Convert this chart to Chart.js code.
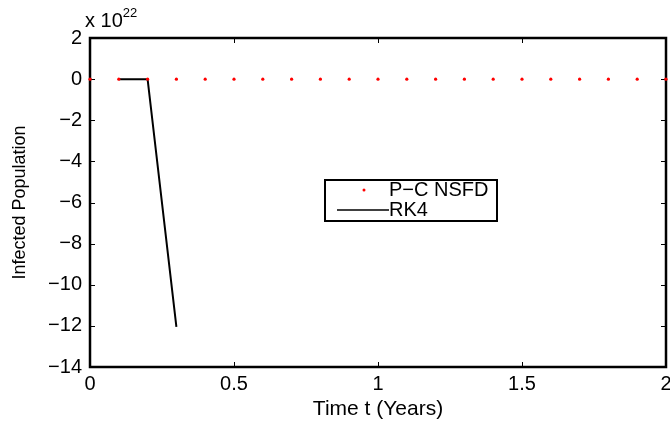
<!DOCTYPE html>
<html>
<head>
<meta charset="utf-8">
<script src="https://cdn.jsdelivr.net/npm/chart.js@4.4.1/dist/chart.umd.min.js"></script>
<style>
  html, body { margin: 0; padding: 0; background: #fff; }
  #wrap { width: 670px; height: 425px; }
</style>
</head>
<body>
<div id="wrap"><canvas id="canvas1" width="670" height="425"></canvas></div>
<script>
// data, in units of 10^22
var pcTimes = [0, 0.1, 0.2, 0.3, 0.4, 0.5, 0.6, 0.7, 0.8, 0.9, 1.0, 1.1, 1.2, 1.3, 1.4, 1.5, 1.6, 1.7, 1.8, 1.9, 2.0];
var pcValues = [0, 0, 0, 0, 0, 0, 0, 0, 0, 0, 0, 0, 0, 0, 0, 0, 0, 0, 0, 0, 0];
var rkTimes = [0.1, 0.2, 0.3];
var rkValues = [0, 0, -12.05];
var xTicks = [0, 0.5, 1, 1.5, 2];
var yTicks = [2, 0, -2, -4, -6, -8, -10, -12, -14];
var seriesNames = ['P\u2212C NSFD', 'RK4'];
var exponent = '22';

var FONT = 'Liberation Sans, Arial, sans-serif';

function toPoints(xs, ys) {
  var pts = [];
  for (var i = 0; i < xs.length; i++) pts.push({x: xs[i], y: ys[i]});
  return pts;
}
function fmt(v) {
  return String(v).replace('-', '\u2212');
}

// box, inward ticks, exponent label, legend
var matlabAxes = {
  id: 'matlabAxes',
  afterDatasetsDraw: function(chart) {
    var ctx = chart.ctx;
    var a = chart.chartArea;
    var xs = chart.scales.x, ys = chart.scales.y;
    ctx.save();
    ctx.strokeStyle = '#000';
    ctx.lineWidth = 1;
    var tl = 5;
    ctx.beginPath();
    xTicks.forEach(function(t) {
      var px = Math.round(xs.getPixelForValue(t)) + 0.5;
      ctx.moveTo(px, a.bottom); ctx.lineTo(px, a.bottom - tl);
      ctx.moveTo(px, a.top); ctx.lineTo(px, a.top + tl);
    });
    yTicks.forEach(function(t) {
      var py = Math.round(ys.getPixelForValue(t)) + 0.5;
      ctx.moveTo(a.left, py); ctx.lineTo(a.left + tl, py);
      ctx.moveTo(a.right, py); ctx.lineTo(a.right - tl, py);
    });
    ctx.stroke();
    ctx.lineWidth = 2.5;
    ctx.strokeRect(a.left, a.top, a.right - a.left, a.bottom - a.top);

    // dots that sit on the box edge
    ctx.fillStyle = '#ff0000';
    [0, pcTimes.length - 1].forEach(function(i) {
      ctx.beginPath();
      ctx.arc(xs.getPixelForValue(pcTimes[i]), ys.getPixelForValue(pcValues[i]), 1.6, 0, Math.PI * 2);
      ctx.fill();
    });

    // exponent
    ctx.fillStyle = '#000';
    ctx.textBaseline = 'alphabetic';
    ctx.textAlign = 'left';
    ctx.font = '20px ' + FONT;
    ctx.fillText('x 10', 85, 27);
    var w = ctx.measureText('x 10').width;
    ctx.font = '13px ' + FONT;
    ctx.fillText(exponent, 85 + w, 17);

    // legend
    var lx = 325, ly = 180, lw = 172, lh = 41;
    ctx.fillStyle = '#fff';
    ctx.fillRect(lx, ly, lw, lh);
    ctx.lineWidth = 2;
    ctx.strokeStyle = '#000';
    ctx.strokeRect(lx, ly, lw, lh);
    ctx.font = '20px ' + FONT;
    ctx.textBaseline = 'middle';
    ctx.fillStyle = '#000';
    ctx.fillText(chart.data.datasets[0].label, 389, 190);
    ctx.fillText(chart.data.datasets[1].label, 389, 210);
    ctx.fillStyle = chart.data.datasets[0].pointBackgroundColor;
    ctx.beginPath();
    ctx.arc(364, 190, 1.5, 0, Math.PI * 2);
    ctx.fill();
    ctx.strokeStyle = chart.data.datasets[1].borderColor;
    ctx.lineWidth = 1.5;
    ctx.beginPath();
    ctx.moveTo(337, 210); ctx.lineTo(389, 210);
    ctx.stroke();
    ctx.restore();
  }
};

new Chart(document.getElementById('canvas1').getContext('2d'), {
  type: 'scatter',
  data: {
    datasets: [{
      label: seriesNames[0],
      data: toPoints(pcTimes, pcValues),
      showLine: false,
      pointRadius: 1.6,
      pointBackgroundColor: '#ff0000',
      pointBorderWidth: 0,
      borderColor: '#ff0000'
    }, {
      label: seriesNames[1],
      data: toPoints(rkTimes, rkValues),
      showLine: true,
      borderColor: '#000000',
      borderWidth: 2,
      pointRadius: 0,
      tension: 0
    }]
  },
  options: {
    responsive: false,
    animation: false,
    events: [],
    layout: { padding: { left: 0, right: 3, top: 38, bottom: 0 } },
    plugins: { legend: { display: false }, tooltip: { enabled: false } },
    scales: {
      x: {
        type: 'linear', min: 0, max: 2,
        afterBuildTicks: function(s) { s.ticks = xTicks.map(function(v) { return {value: v}; }); },
        afterFit: function(s) { s.height = 58; s.paddingLeft = 0; s.paddingRight = 0; },
        grid: { display: false, drawTicks: false },
        border: { display: false },
        ticks: { color: '#000', font: { family: FONT, size: 20 }, padding: 5, maxRotation: 0,
                 callback: function(v) { return fmt(v); } },
        title: { display: true, text: 'Time t (Years)', color: '#000',
                 font: { family: FONT, size: 21 }, padding: { top: 0, bottom: 3 } }
      },
      y: {
        type: 'linear', min: -14, max: 2,
        afterBuildTicks: function(s) { s.ticks = yTicks.map(function(v) { return {value: v}; }); },
        afterFit: function(s) { s.width = 90; s.paddingTop = 0; s.paddingBottom = 0; },
        grid: { display: false, drawTicks: false },
        border: { display: false },
        ticks: { color: '#000', font: { family: FONT, size: 20 }, padding: 8,
                 callback: function(v) { return fmt(v); } },
        title: { display: true, text: 'Infected Population', color: '#000',
                 font: { family: FONT, size: 18 }, padding: { top: 9, bottom: 0 } }
      }
    }
  },
  plugins: [matlabAxes]
});
</script>
</body>
</html>
